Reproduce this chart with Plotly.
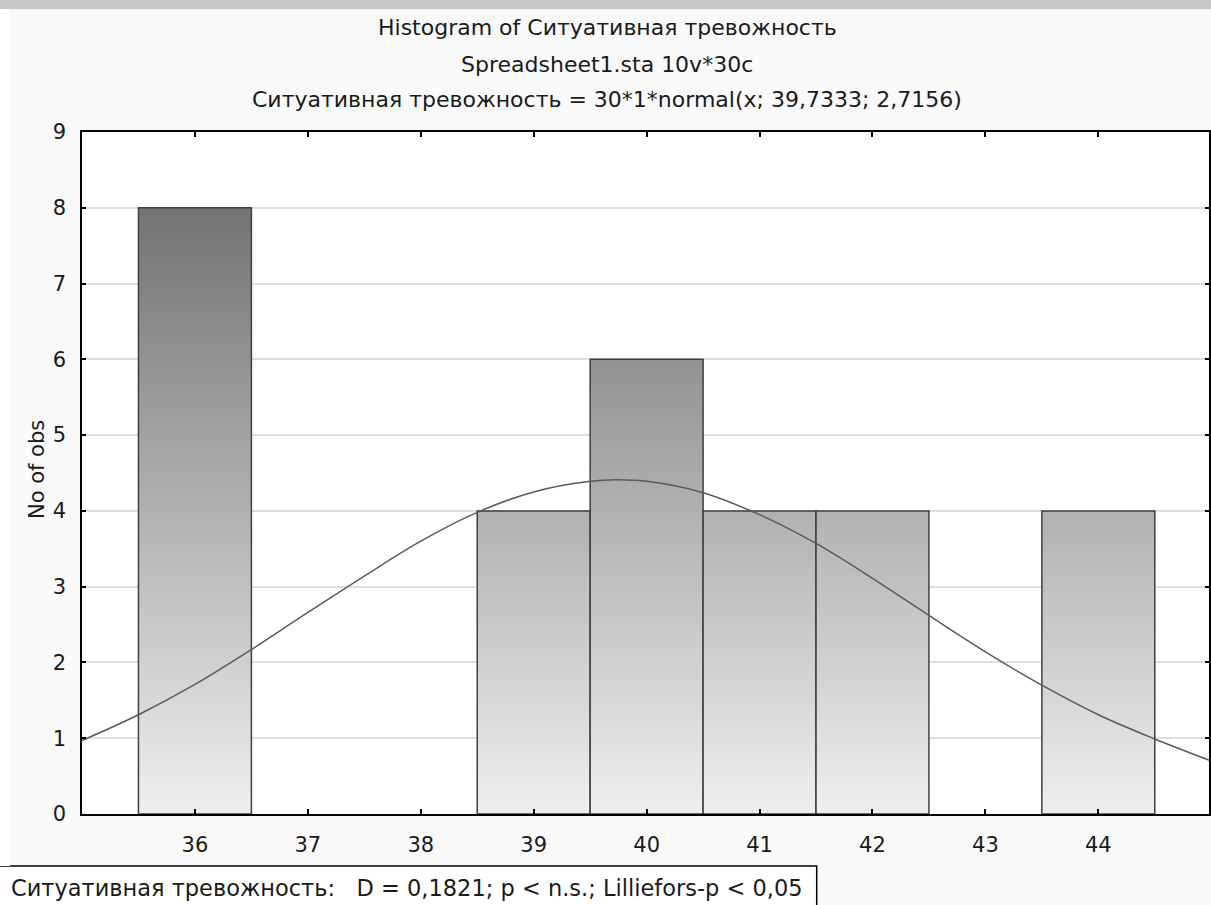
import plotly.graph_objects as go

# ---- data ----
bin_centers = [36, 37, 38, 39, 40, 41, 42, 43, 44]
counts = [8, 0, 0, 4, 6, 4, 4, 0, 4]
curve_x = [35, 35.5, 36, 36.5, 37, 37.5, 38, 38.5, 39, 39.5, 39.73, 40, 40.5, 41,
           41.5, 42, 42.5, 43, 43.5, 44, 44.5, 45]
curve_y = [0.97, 1.31, 1.71, 2.17, 2.66, 3.14, 3.60, 3.98, 4.25, 4.39, 4.41, 4.39,
           4.24, 3.95, 3.57, 3.11, 2.62, 2.14, 1.70, 1.31, 0.99, 0.70]
x_ticks = [36, 37, 38, 39, 40, 41, 42, 43, 44]
y_ticks = [0, 1, 2, 3, 4, 5, 6, 7, 8, 9]
bin_width = 1.0

title_lines = [
    "Histogram of Ситуативная тревожность",
    "Spreadsheet1.sta 10v*30c",
    "Ситуативная тревожность = 30*1*normal(x; 39,7333; 2,7156)",
]
footer = "Ситуативная тревожность:   D = 0,1821; p < n.s.; Lilliefors-p < 0,05"

W, H = 1211, 905
L, R, T, B = 82, 0, 132, 91
plot_h = H - T - B
plot_w = W - L - R

def py(p):
    return (H - B - p) / plot_h

def px(p):
    return (p - L) / plot_w

fig = go.Figure()
FONT = "DejaVu Sans, Liberation Sans, Arial, sans-serif"
TXT = "#1a1a1a"

for c, n in zip(bin_centers, counts):
    if n <= 0:
        continue
    x0, x1 = c - bin_width / 2, c + bin_width / 2
    fig.add_trace(go.Scatter(
        x=[x0, x0, x1, x1, x0], y=[0, n, n, 0, 0],
        mode="lines", fill="toself",
        fillgradient=dict(type="vertical", start=0, stop=8,
                          colorscale=[[0, "#efefef"], [1, "#737373"]]),
        line=dict(color="#3f3f3f", width=1.5),
        showlegend=False, hoverinfo="skip",
    ))

fig.add_trace(go.Scatter(
    x=curve_x, y=curve_y, mode="lines",
    line=dict(color="#5a5a5a", width=1.5, shape="spline"),
    showlegend=False,
))

annotations = []
for ypix, txt in zip([28, 64, 99], title_lines):
    annotations.append(dict(text=txt, xref="paper", yref="paper", x=px(608), y=py(ypix),
                            xanchor="center", yanchor="middle", showarrow=False,
                            font=dict(family=FONT, size=22, color=TXT)))
annotations.append(dict(text="No of obs", xref="paper", yref="paper", x=px(37), y=py(470),
                        xanchor="center", yanchor="middle", textangle=-90, showarrow=False,
                        font=dict(family=FONT, size=21, color=TXT)))
annotations.append(dict(text=footer, xref="paper", yref="paper", x=px(9), y=py(888),
                        xanchor="left", yanchor="middle", showarrow=False,
                        font=dict(family=FONT, size=22.5, color=TXT)))

shapes = [
    dict(type="rect", xref="paper", yref="paper", x0=px(-2), x1=px(818), y0=py(910), y1=py(866),
         fillcolor="white", line=dict(color="#000000", width=1.5), layer="below"),
    dict(type="rect", xref="paper", yref="paper", x0=px(-2), x1=px(W + 2), y0=py(9), y1=py(-2),
         fillcolor="#c8c8c8", line=dict(width=0), layer="above"),
    dict(type="rect", xref="paper", yref="paper", x0=px(-2), x1=px(10), y0=py(866), y1=py(9),
         fillcolor="white", line=dict(width=0), layer="below"),
]

fig.update_layout(
    width=W, height=H,
    margin=dict(l=L, r=R, t=T, b=B, pad=0),
    paper_bgcolor="#f9f9f9", plot_bgcolor="white",
    annotations=annotations, shapes=shapes,
    font=dict(family=FONT, size=21, color=TXT),
    xaxis=dict(range=[35, 45 - 0.02], tickvals=x_ticks, ticks="inside", ticklen=5,
               tickcolor="#000", tickwidth=1.5, showgrid=False, zeroline=False,
               showline=True, linecolor="#000", linewidth=2, mirror="ticks",
               ticklabelstandoff=11, tickfont=dict(family=FONT, size=21, color=TXT)),
    yaxis=dict(range=[0, 9], tickvals=y_ticks, ticks="inside", ticklen=4,
               tickcolor="#000", tickwidth=1.5, showgrid=True, gridcolor="#dedede",
               gridwidth=1.5, zeroline=False, showline=True, linecolor="#000",
               linewidth=1.5, mirror="ticks", ticklabelstandoff=10,
               tickfont=dict(family=FONT, size=21, color=TXT)),
)

fig.write_html("out.html", config={"displayModeBar": False},
               post_script="document.body.style.margin='0';document.body.style.overflow='hidden';")
